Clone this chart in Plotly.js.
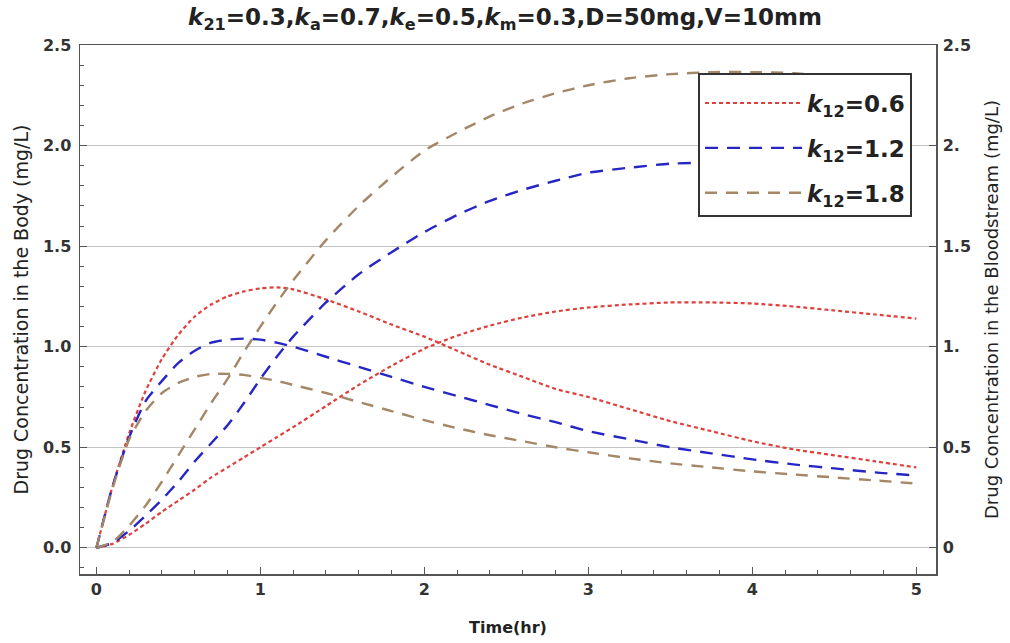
<!DOCTYPE html>
<html><head><meta charset="utf-8">
<script src="https://cdn.plot.ly/plotly-3.0.1.min.js"></script>
<style>html,body{margin:0;padding:0;background:#fff}#chart{width:1010px;height:643px}</style>
</head><body><div id="chart"></div>
<script>
// time (hr)
const t = [0,0.1,0.2,0.3,0.4,0.5,0.6,0.7,0.8,0.9,1.0,1.1,1.2,1.4,1.6,1.8,2.0,2.2,2.4,2.6,2.8,3.0,3.25,3.5,3.75,4.0,4.25,4.5,4.75,5.0];
// concentration in the body (mg/L)
const body06 = [0,0.31,0.57,0.78,0.94,1.06,1.15,1.21,1.25,1.275,1.29,1.295,1.285,1.235,1.175,1.11,1.05,0.98,0.91,0.85,0.79,0.75,0.69,0.63,0.58,0.53,0.49,0.46,0.43,0.40];
const body12 = [0,0.31,0.55,0.73,0.83,0.92,0.98,1.02,1.035,1.04,1.035,1.02,1.0,0.95,0.90,0.85,0.80,0.755,0.71,0.665,0.625,0.58,0.54,0.50,0.47,0.44,0.415,0.395,0.375,0.36];
const body18 = [0,0.30,0.54,0.68,0.77,0.82,0.85,0.865,0.865,0.86,0.845,0.83,0.81,0.77,0.725,0.68,0.635,0.595,0.56,0.53,0.50,0.475,0.445,0.42,0.40,0.38,0.365,0.35,0.335,0.32];
// concentration in the bloodstream (mg/L)
const blood06 = [0,0.02,0.065,0.12,0.18,0.235,0.29,0.35,0.40,0.45,0.50,0.55,0.60,0.705,0.81,0.905,0.99,1.055,1.105,1.145,1.175,1.195,1.21,1.22,1.22,1.215,1.20,1.18,1.16,1.14];
const blood12 = [0,0.025,0.085,0.16,0.24,0.33,0.43,0.52,0.61,0.72,0.84,0.95,1.05,1.22,1.36,1.47,1.57,1.655,1.725,1.78,1.825,1.865,1.89,1.91,1.915,1.905,1.885,1.86,1.845,1.83];
const blood18 = [0,0.03,0.11,0.21,0.33,0.46,0.59,0.72,0.84,0.975,1.10,1.22,1.33,1.53,1.70,1.845,1.975,2.065,2.145,2.21,2.26,2.30,2.335,2.355,2.365,2.365,2.36,2.345,2.325,2.30];
const legendNames = ['<i>k</i><sub>12</sub>=0.6','<i>k</i><sub>12</sub>=1.2','<i>k</i><sub>12</sub>=1.8'];
const xTicks = [0,1,2,3,4,5];
const xGrid = [1,2,3,4];
const yTicks = [0,0.5,1,1.5,2,2.5];
const y2Text = ['0','0.5','1.','1.5','2.','2.5'];

const styles = [
  {color:'#e0403c', dash:'4px,3px', width:2.2},
  {color:'#2626c4', dash:'13px,9px', width:2.4},
  {color:'#a38766', dash:'12px,9px', width:2.4}
];
const bodies = [body06, body12, body18];
const bloods = [blood06, blood12, blood18];
const traces = [];
for (let i=0;i<3;i++){
  traces.push({x:t, y:bodies[i], type:'scatter', mode:'lines', name:legendNames[i],
    legendgroup:'g'+i, line:Object.assign({shape:'spline', smoothing:0.6}, styles[i]), xaxis:'x', yaxis:'y'});
}
for (let i=0;i<3;i++){
  traces.push({x:t, y:bloods[i], type:'scatter', mode:'lines', name:legendNames[i], showlegend:false,
    legendgroup:'g'+i, line:Object.assign({shape:'spline', smoothing:0.6}, styles[i]), xaxis:'x', yaxis:'y2'});
}
const xr = [-0.1, 5.12], yr = [-0.13, 2.5];
const F = 'DejaVu Sans, Verdana, sans-serif';
const tickFont = {family:F, size:16, color:'#333', weight:'bold'};
const layout = {
  width:1010, height:643,
  margin:{l:80, r:74, t:45, b:69},
  paper_bgcolor:'#fff', plot_bgcolor:'#fff',
  showlegend:true,
  title:{text:'<i>k</i><sub>21</sub>=0.3,<i>k</i><sub>a</sub>=0.7,<i>k</i><sub>e</sub>=0.5,<i>k</i><sub>m</sub>=0.3,D=50mg,V=10mm',
    font:{family:F, size:23, color:'#222', weight:'bold'}, x:0.5, xanchor:'center', y:0.974, yanchor:'middle'},
  xaxis:{range:xr, tickvals:xTicks, ticktext:xTicks.map(String), showgrid:false, zeroline:false,
    ticks:'inside', ticklen:7, tickcolor:'#555', tickwidth:1,
    minor:{dtick:0.2, tick0:0, ticks:'inside', ticklen:4, tickcolor:'#555', showgrid:false},
    showline:true, linecolor:'#555', linewidth:1.5, mirror:true,
    tickfont:tickFont,
    title:{text:'Time(hr)', font:{family:F, size:16, color:'#222', weight:'bold'}, standoff:24}},
  xaxis2:{range:xr, overlaying:'x', anchor:'y', tickvals:xGrid, showgrid:true, gridcolor:'#c4c4c4', gridwidth:1,
    showticklabels:false, ticks:'', zeroline:false, showline:false},
  yaxis:{range:yr, tickvals:yTicks, tickformat:'.1f', showgrid:true, gridcolor:'#c4c4c4', gridwidth:1, zeroline:false,
    ticks:'inside', ticklen:7, tickcolor:'#555', ticklabelstandoff:4,
    minor:{dtick:0.1, tick0:0, ticks:'inside', ticklen:4, tickcolor:'#555', showgrid:false},
    showline:true, linecolor:'#555', linewidth:1.5,
    tickfont:tickFont,
    title:{text:'Drug Concentration in the Body (mg/L)', font:{family:F, size:19, color:'#222'}, standoff:9}},
  yaxis2:{range:yr, overlaying:'y', side:'right', anchor:'x', tickvals:yTicks, ticktext:y2Text, showgrid:false, zeroline:false,
    ticks:'inside', ticklen:7, tickcolor:'#555', ticklabelstandoff:2,
    showline:true, linecolor:'#555', linewidth:1.5,
    tickfont:tickFont,
    title:{text:'Drug Concentration in the Bloodstream (mg/L)', font:{family:F, size:18, color:'#222'}, standoff:15}},
  legend:{x:0.722, y:0.947, xanchor:'left', yanchor:'top', bgcolor:'#fff', bordercolor:'#333', borderwidth:2,
    font:{family:F, size:23, color:'#222', weight:'bold'}, itemwidth:97, tracegroupgap:12,
    title:{text:' ', font:{size:5}}}
};
Plotly.newPlot('chart', traces, layout, {displayModeBar:false, staticPlot:true});
</script></body></html>
